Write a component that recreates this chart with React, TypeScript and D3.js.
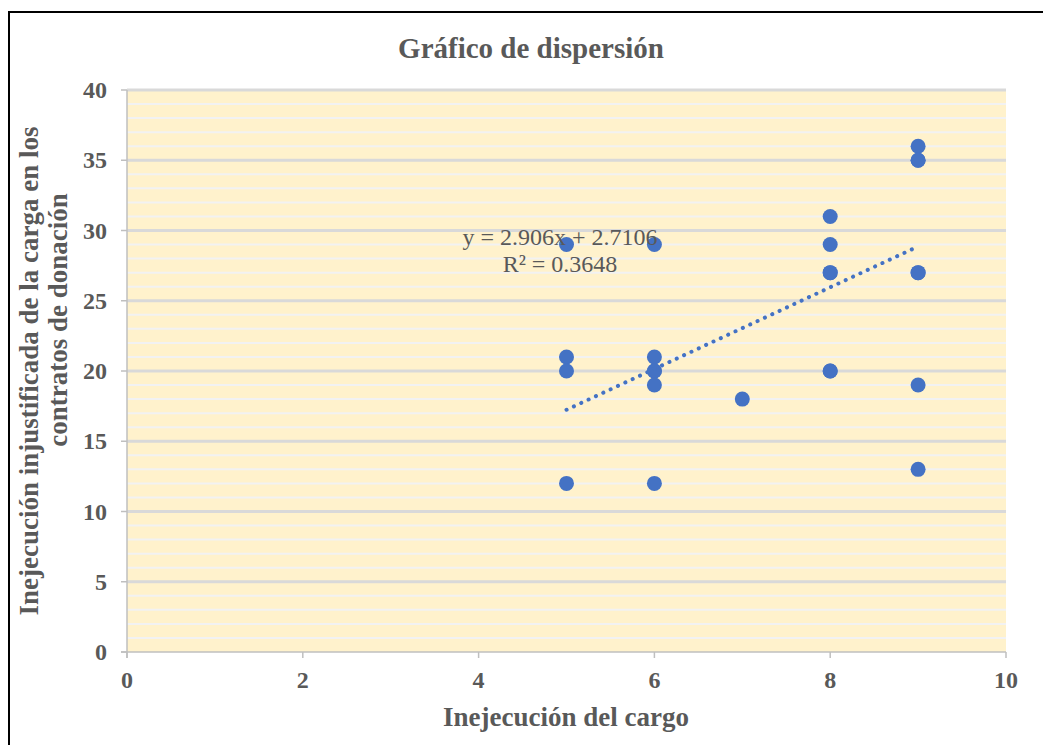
import React from 'react';
import * as d3 from 'd3';

// cargo (x) vs inejecución injustificada (y)
const xVals = [5, 5, 5, 5, 6, 6, 6, 6, 6, 6, 7, 8, 8, 8, 8, 8, 8, 9, 9, 9, 9, 9, 9, 9];
const yVals = [29, 21, 20, 12, 29, 21, 20, 20, 19, 12, 18, 31, 29, 27, 27, 20, 20, 36, 35, 35, 27, 27, 19, 13];
const xTicks = [0, 2, 4, 6, 8, 10];
const yTicks = [0, 5, 10, 15, 20, 25, 30, 35, 40];
const slope = 2.906;
const intercept = 2.7106;
const eqLines = ['y = 2.906x + 2.7106', 'R² = 0.3648'];

const W = 1043, H = 745;
const left = 127, right = 1006, top = 90, bottom = 652;
const grey = '#595959';
const font = '"Liberation Serif", "Times New Roman", serif';

export default function App() {
  const x = d3.scaleLinear().domain([0, 10]).range([left, right]);
  const y = d3.scaleLinear().domain([0, 40]).range([bottom, top]);
  const minor = d3.range(0, 41, 1).filter(v => v % 5 !== 0);
  const xmin = d3.min(xVals)!, xmax = d3.max(xVals)!;
  const trend = d3.line<number>().x(v => x(v)).y(v => y(slope * v + intercept));

  return (
    <svg width={W} height={H} style={{ position: 'absolute', left: 0, top: 0, fontFamily: font }}>
      <rect x={0} y={0} width={W} height={H} fill="#fff" />
      <rect x={9} y={12} width={W + 10} height={H + 10} fill="none" stroke="#000" strokeWidth={2} />
      <text x={531} y={58} textAnchor="middle" fontSize={29} fontWeight="bold" fill={grey}>Gráfico de dispersión</text>

      <rect x={left} y={top} width={right - left} height={bottom - top} fill="#fff2cc" />
      {minor.map(v => (
        <line key={'m' + v} x1={left} x2={right} y1={y(v)} y2={y(v)} stroke="#f2f2f2" strokeWidth={2} />
      ))}
      {yTicks.filter(v => v > 0).map(v => (
        <line key={'g' + v} x1={left} x2={right} y1={y(v)} y2={y(v)} stroke="#d9d9d9" strokeWidth={3} />
      ))}

      <line x1={left} x2={left} y1={top} y2={bottom + 6} stroke="#bfbfbf" strokeWidth={1.5} />
      <line x1={left - 6} x2={right} y1={bottom} y2={bottom} stroke="#bfbfbf" strokeWidth={1.5} />
      {yTicks.map(v => (
        <g key={'yt' + v}>
          <line x1={left - 6} x2={left} y1={y(v)} y2={y(v)} stroke="#bfbfbf" strokeWidth={1.5} />
          <text x={107} y={y(v) + 8} textAnchor="end" fontSize={24} fontWeight="bold" fill={grey}>{v}</text>
        </g>
      ))}
      {xTicks.map(v => (
        <g key={'xt' + v}>
          <line x1={x(v)} x2={x(v)} y1={bottom} y2={bottom + 6} stroke="#bfbfbf" strokeWidth={1.5} />
          <text x={x(v)} y={688} textAnchor="middle" fontSize={24} fontWeight="bold" fill={grey}>{v}</text>
        </g>
      ))}

      {xVals.map((v, i) => (
        <circle key={'p' + i} cx={x(v)} cy={y(yVals[i])} r={7.5} fill="#4472c4" />
      ))}
      <path d={trend([xmin, xmax])!} fill="none" stroke="#4472c4" strokeWidth={4}
        strokeDasharray="0.1 8" strokeLinecap="round" />

      {eqLines.map((t, i) => (
        <text key={t} x={560} y={245 + i * 27} textAnchor="middle" fontSize={24} fill={grey}>{t}</text>
      ))}

      <text x={566} y={726} textAnchor="middle" fontSize={27} fontWeight="bold" fill={grey}>Inejecución del cargo</text>
      <text transform="translate(38,371) rotate(-90)" textAnchor="middle" fontSize={27} fontWeight="bold" fill={grey}>
        Inejecución injustificada de la carga en los
      </text>
      <text transform="translate(67,320) rotate(-90)" textAnchor="middle" fontSize={27} fontWeight="bold" fill={grey}>
        contratos de donación
      </text>
    </svg>
  );
}
